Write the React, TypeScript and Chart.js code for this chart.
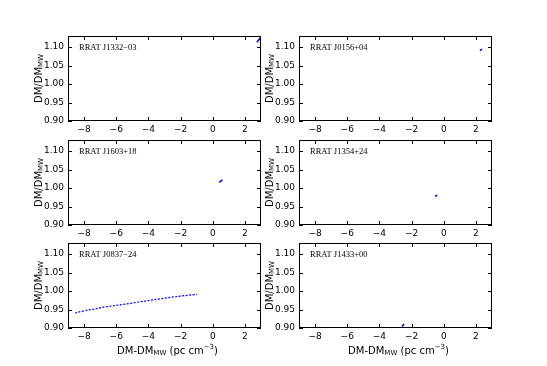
import React, { useEffect, useRef } from "react";
import { Chart, registerables } from "chart.js";
Chart.register(...registerables);

// axis definitions
const xTicks = [-8, -6, -4, -2, 0, 2];
const yTicks = [0.9, 0.95, 1.0, 1.05, 1.1];
const xMin = -9;
const xMax = 3;
const yMin = 0.9;
const yMax = 1.13;

// panel names
const panelNames = [
  "RRAT J1332−03",
  "RRAT J0156+04",
  "RRAT J1603+18",
  "RRAT J1354+24",
  "RRAT J0837−24",
  "RRAT J1433+00",
];

// data
const j1332X = [2.74, 2.97];
const j1332Y = [1.1127, 1.126];
const j0156X = [2.26, 2.37];
const j0156Y = [1.09, 1.0946];
const j1603X = [0.4, 0.6];
const j1603Y = [1.0154, 1.0224];
const j1354X = [-0.54, -0.41];
const j1354Y = [0.9776, 0.981];
const j0837X = [-8.56, -7.94, -7.43, -6.8, -6.08, -5.35, -4.52, -3.69, -2.86, -2.03, -0.99];
const j0837Y = [0.9407, 0.9473, 0.9508, 0.9563, 0.9609, 0.9653, 0.9708, 0.9762, 0.9817, 0.9863, 0.991];
const j1433X = [-2.59, -2.47];
const j1433Y = [0.904, 0.911];

const panelX = [j1332X, j0156X, j1603X, j1354X, j0837X, j1433X];
const panelY = [j1332Y, j0156Y, j1603Y, j1354Y, j0837Y, j1433Y];

// layout
const colLeft = [68, 299];
const rowTop = [36, 140, 243];
const plotW = 193;
const plotH = 85;
const yAxisW = 68;
const padTop = 10;
const padRight = 8;

type Part = { t: string; s: number; dy?: number };

function drawRich(ctx: CanvasRenderingContext2D, parts: Part[], x: number, y: number) {
  let total = 0;
  const widths: number[] = [];
  for (const p of parts) {
    ctx.font = `${p.s}px "DejaVu Sans"`;
    const w = ctx.measureText(p.t).width;
    widths.push(w);
    total += w;
  }
  let cx = x - total / 2;
  ctx.textAlign = "left";
  ctx.textBaseline = "middle";
  parts.forEach((p, i) => {
    ctx.font = `${p.s}px "DejaVu Sans"`;
    ctx.fillText(p.t, cx, y + (p.dy || 0));
    cx += widths[i];
  });
}

const fmtX = (v: number) => (v < 0 ? "−" + Math.abs(v) : String(v));
const fmtY = (v: number) => v.toFixed(2);

function Panel({ idx }: { idx: number }) {
  const ref = useRef<HTMLCanvasElement | null>(null);
  const col = idx % 2;
  const row = Math.floor(idx / 2);
  const isBottom = row === 2;
  const xAxisH = isBottom ? 38 : 18;
  const cw = yAxisW + plotW + padRight;
  const ch = padTop + plotH + xAxisH;
  const left = colLeft[col] - yAxisW;
  const top = rowTop[row] - padTop;

  useEffect(() => {
    const canvas = ref.current!;
    const xs = panelX[idx];
    const ys = panelY[idx];
    const pts = xs.map((x, i) => ({ x, y: ys[i] }));
    const name = panelNames[idx];
    const decor = {
      id: "decor",
      afterDraw(chart: any) {
        const { ctx, chartArea: a, scales } = chart;
        const sx = scales.x;
        const sy = scales.y;
        ctx.save();
        ctx.strokeStyle = "#000";
        ctx.lineWidth = 1;
        ctx.beginPath();
        for (const v of xTicks) {
          const px = Math.round(sx.getPixelForValue(v)) + 0.5;
          ctx.moveTo(px, a.bottom);
          ctx.lineTo(px, a.bottom - 4);
          ctx.moveTo(px, a.top);
          ctx.lineTo(px, a.top + 4);
        }
        for (const v of yTicks) {
          const py = Math.round(sy.getPixelForValue(v)) + 0.5;
          ctx.moveTo(a.left, py);
          ctx.lineTo(a.left + 4, py);
          ctx.moveTo(a.right, py);
          ctx.lineTo(a.right - 4, py);
        }
        ctx.stroke();
        ctx.strokeRect(a.left + 0.5, a.top + 0.5, a.right - a.left - 1, a.bottom - a.top - 1);
        ctx.fillStyle = "#000";
        // tick labels
        ctx.font = '9px "DejaVu Sans"';
        ctx.textAlign = "center";
        ctx.textBaseline = "top";
        for (const v of xTicks) {
          ctx.fillText(fmtX(v), sx.getPixelForValue(v), a.bottom + 4);
        }
        ctx.textAlign = "right";
        ctx.textBaseline = "middle";
        for (const v of yTicks) {
          ctx.fillText(fmtY(v), a.left - 4, sy.getPixelForValue(v));
        }
        // panel name
        ctx.font = '8.5px "Liberation Serif"';
        ctx.textAlign = "left";
        ctx.textBaseline = "middle";
        ctx.fillText(name, a.left + 11, a.top + 12);
        // y title
        ctx.save();
        ctx.translate(a.left - 29, (a.top + a.bottom) / 2);
        ctx.rotate(-Math.PI / 2);
        drawRich(ctx, [
          { t: "DM/DM", s: 10 },
          { t: "MW", s: 7, dy: 2.5 },
        ], 0, 0);
        ctx.restore();
        if (isBottom) {
          drawRich(ctx, [
            { t: "DM-DM", s: 10 },
            { t: "MW", s: 7, dy: 2.5 },
            { t: " (pc cm", s: 10 },
            { t: "−3", s: 7, dy: -3.5 },
            { t: ")", s: 10 },
          ], (a.left + a.right) / 2 + 3, a.bottom + 23);
        }
        ctx.restore();
      },
    };
    const chart = new Chart(canvas, {
      type: "scatter",
      data: {
        datasets: [
          {
            data: pts,
            showLine: true,
            borderColor: "#0000ff",
            backgroundColor: "#0000ff",
            borderWidth: idx === 4 ? 1.2 : 1.6,
            borderDash: idx === 4 ? [2, 1.5] : [],
            pointRadius: 0,
          },
        ],
      },
      options: {
        responsive: false,
        animation: false,
        events: [],
        layout: {
          padding: {
            left: yAxisW,
            top: padTop,
            right: padRight,
            bottom: xAxisH,
          },
        },
        plugins: { legend: { display: false }, tooltip: { enabled: false } },
        scales: {
          x: {
            type: "linear",
            position: "bottom",
            display: false,
            min: xMin,
            max: xMax,
          },
          y: {
            type: "linear",
            position: "left",
            display: false,
            min: yMin,
            max: yMax,
          },
        },
      },
      plugins: [decor],
    } as any);
    return () => chart.destroy();
  }, [idx]);

  return (
    <canvas
      ref={ref}
      width={cw}
      height={ch}
      style={{ position: "absolute", left, top, width: cw, height: ch }}
    />
  );
}

export default function App() {
  return (
    <div style={{ position: "absolute", left: 0, top: 0, width: 547, height: 366, background: "#fff" }}>
      {[0, 1, 2, 3, 4, 5].map((i) => (
        <Panel key={i} idx={i} />
      ))}
    </div>
  );
}
